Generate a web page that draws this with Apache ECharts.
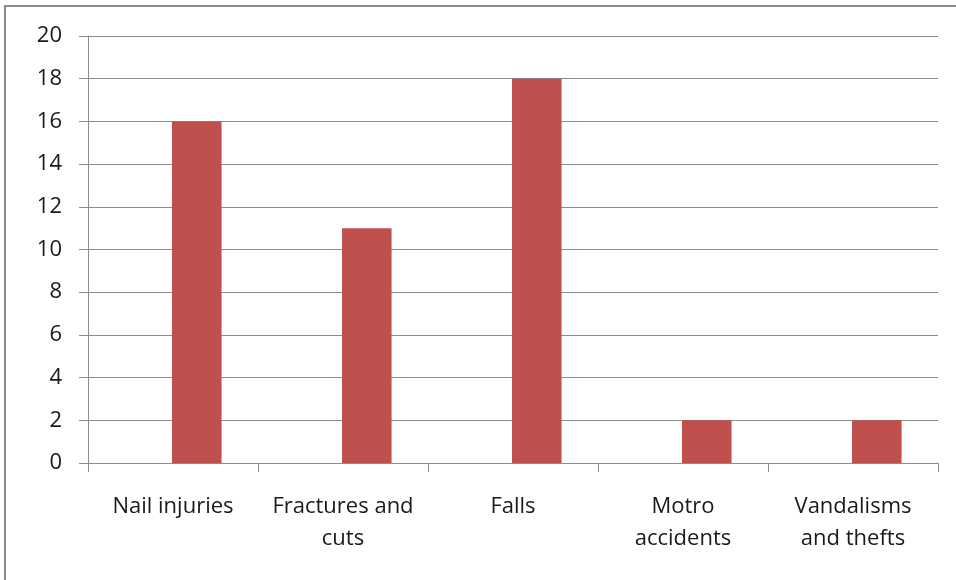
<!DOCTYPE html>
<html><head><meta charset="utf-8">
<script src="https://cdn.jsdelivr.net/npm/echarts@6/dist/echarts.min.js"></script>
<style>html,body{margin:0;padding:0;background:#fff}#c{width:956px;height:580px}</style>
</head><body><div id="c"></div>
<script>
var categories = ["Nail injuries", "Fractures and\ncuts", "Falls", "Motro\naccidents", "Vandalisms\nand thefts"];
var placeholderValues = [null, null, null, null, null];
var values = [16, 11, 18, 2, 2];
var yTicks = [0, 2, 4, 6, 8, 10, 12, 14, 16, 18, 20];

var chart = echarts.init(document.getElementById('c'), null, {renderer: 'canvas'});
var font = '"Open Sans", sans-serif';
chart.setOption({
  animation: false,
  backgroundColor: '#fff',
  graphic: [{type: 'rect', shape: {x: 5, y: 6, width: 1000, height: 1000}, style: {fill: 'none', stroke: '#8a8a8a', lineWidth: 2}, silent: true}],
  grid: {left: 88, right: 18, top: 36, bottom: 117, containLabel: false},
  xAxis: {
    type: 'category', data: categories,
    axisLine: {lineStyle: {color: '#8c8c8c', width: 1}},
    axisTick: {show: true, length: 9, lineStyle: {color: '#8c8c8c'}, alignWithLabel: false},
    axisLabel: {interval: 0, margin: 28, fontSize: 22, fontFamily: font, color: '#1a1a1a', lineHeight: 32, verticalAlign: 'top'}
  },
  yAxis: {
    type: 'value', min: yTicks[0], max: yTicks[yTicks.length - 1], interval: 2,
    axisLine: {show: true, lineStyle: {color: '#8c8c8c'}},
    axisTick: {show: true, length: 9, lineStyle: {color: '#8c8c8c'}},
    splitLine: {show: true, lineStyle: {color: '#8c8c8c', width: 1}},
    axisLabel: {margin: 26, fontSize: 22, fontFamily: font, color: '#1a1a1a'}
  },
  series: [
    {type: 'bar', data: placeholderValues, barGap: '-4%', barCategoryGap: '42.86%', itemStyle: {color: '#4F81BD'}},
    {type: 'bar', data: values, barGap: '-4%', barCategoryGap: '42.86%', itemStyle: {color: '#C0504D'}}
  ]
});
</script></body></html>
